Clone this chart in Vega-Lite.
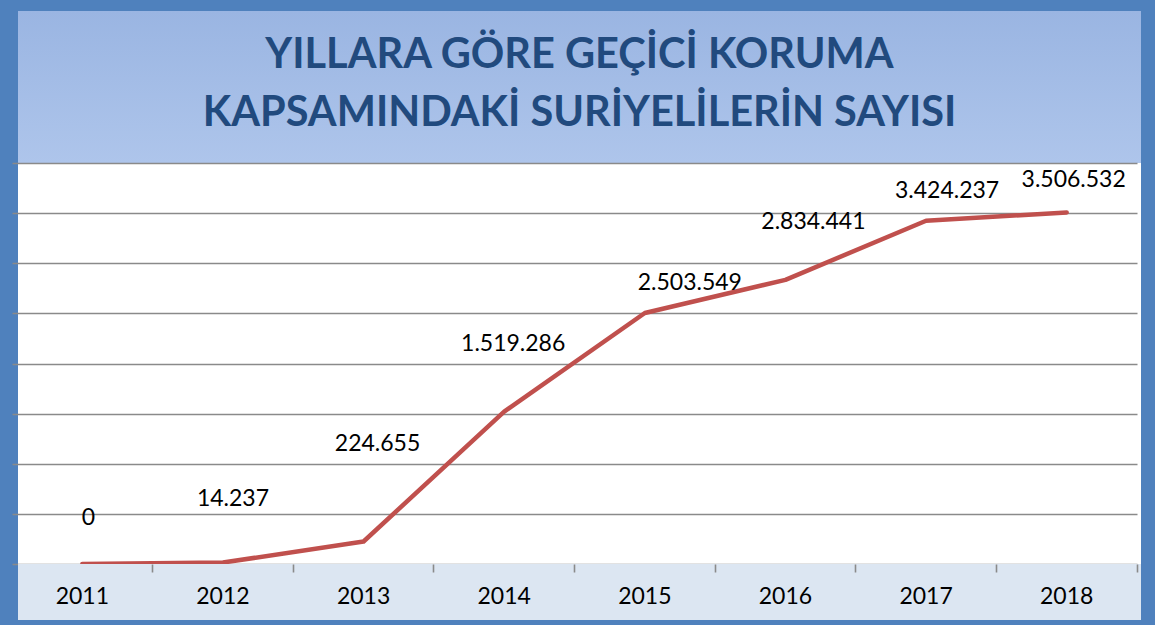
{
  "$schema": "https://vega.github.io/schema/vega-lite/v6.json",
  "background": "#4F81BD",
  "padding": {"left": 18, "top": 11, "right": 14, "bottom": 5},
  "spacing": 0,
  "bounds": "flush",
  "config": {
    "view": {"stroke": null},
    "locale": {"number": {"decimal": ",", "thousands": ".", "grouping": [3], "currency": ["", ""]}}
  },
  "data": {"values": [
    {"year": "2011", "value": 0},
    {"year": "2012", "value": 14237},
    {"year": "2013", "value": 224655},
    {"year": "2014", "value": 1519286},
    {"year": "2015", "value": 2503549},
    {"year": "2016", "value": 2834441},
    {"year": "2017", "value": 3424237},
    {"year": "2018", "value": 3506532}
  ]},
  "vconcat": [
    {
      "width": 1123,
      "height": 152,
      "data": {"values": [{"k": 1}]},
      "layer": [
        {
          "mark": {"type": "rect", "fill": {"gradient": "linear", "x1": 0, "y1": 0, "x2": 0, "y2": 1, "stops": [{"offset": 0, "color": "#9AB5E2"}, {"offset": 1, "color": "#AEC5EB"}]}},
          "encoding": {}
        },
        {
          "mark": {"type": "text", "text": ["YILLARA GÖRE GEÇİCİ KORUMA", "KAPSAMINDAKİ SURİYELİLERİN SAYISI"], "font": "Lato", "fontWeight": "bold", "fontSize": 41.5, "lineHeight": 58, "color": "#214A7E", "align": "center", "baseline": "middle", "dy": -31},
          "encoding": {}
        }
      ]
    },
    {
      "width": 1123,
      "height": 401,
      "view": {"fill": "white", "stroke": null},
      "encoding": {
        "x": {"field": "year", "type": "ordinal", "scale": {"type": "band", "range": [-6, 1119], "paddingInner": 0, "paddingOuter": 0}, "axis": null},
        "y": {"field": "value", "type": "quantitative", "scale": {"domain": [0, 4000000], "nice": false, "zero": true},
          "axis": {"values": [0, 500000, 1000000, 1500000, 2000000, 2500000, 3000000, 3500000, 4000000], "labels": false, "ticks": false, "domain": false, "grid": true, "gridColor": "#8A8A8A", "gridWidth": 1.6, "title": null, "minExtent": 0}}
      },
      "layer": [
        {"mark": {"type": "line", "color": "#C0504D", "strokeWidth": 4.5, "strokeCap": "round", "strokeJoin": "round"}},
        {"transform": [{"filter": "datum.year == '2011'"}], "mark": {"type": "text", "dx": 6, "dy": -46, "font": "Lato", "fontSize": 23, "color": "black"}, "encoding": {"text": {"field": "value", "type": "quantitative", "format": ",d"}}},
        {"transform": [{"filter": "datum.year == '2012'"}], "mark": {"type": "text", "dx": 10, "dy": -64, "font": "Lato", "fontSize": 23, "color": "black"}, "encoding": {"text": {"field": "value", "type": "quantitative", "format": ",d"}}},
        {"transform": [{"filter": "datum.year == '2013'"}], "mark": {"type": "text", "dx": 14, "dy": -97, "font": "Lato", "fontSize": 23, "color": "black"}, "encoding": {"text": {"field": "value", "type": "quantitative", "format": ",d"}}},
        {"transform": [{"filter": "datum.year == '2014'"}], "mark": {"type": "text", "dx": 9, "dy": -68, "font": "Lato", "fontSize": 23, "color": "black"}, "encoding": {"text": {"field": "value", "type": "quantitative", "format": ",d"}}},
        {"transform": [{"filter": "datum.year == '2015'"}], "mark": {"type": "text", "dx": 45, "dy": -30, "font": "Lato", "fontSize": 23, "color": "black"}, "encoding": {"text": {"field": "value", "type": "quantitative", "format": ",d"}}},
        {"transform": [{"filter": "datum.year == '2016'"}], "mark": {"type": "text", "dx": 28, "dy": -58, "font": "Lato", "fontSize": 23, "color": "black"}, "encoding": {"text": {"field": "value", "type": "quantitative", "format": ",d"}}},
        {"transform": [{"filter": "datum.year == '2017'"}], "mark": {"type": "text", "dx": 21, "dy": -30, "font": "Lato", "fontSize": 23, "color": "black"}, "encoding": {"text": {"field": "value", "type": "quantitative", "format": ",d"}}},
        {"transform": [{"filter": "datum.year == '2018'"}], "mark": {"type": "text", "dx": 7, "dy": -32, "font": "Lato", "fontSize": 23, "color": "black"}, "encoding": {"text": {"field": "value", "type": "quantitative", "format": ",d"}}}
      ]
    },
    {
      "width": 1123,
      "height": 56,
      "view": {"fill": "#DCE6F2", "stroke": null},
      "mark": {"type": "text", "font": "Lato", "fontSize": 23, "color": "black", "baseline": "middle", "dy": 5},
      "encoding": {
        "x": {"field": "year", "type": "ordinal", "scale": {"type": "band", "range": [-6, 1119], "paddingInner": 0, "paddingOuter": 0},
          "axis": {"orient": "top", "labels": false, "domain": false, "ticks": true, "tickSize": -8, "bandPosition": 1, "tickExtra": false, "tickColor": "#8A8A8A", "tickWidth": 1.6, "title": null, "grid": false, "minExtent": 0}},
        "text": {"field": "year", "type": "nominal"}
      }
    }
  ]
}
